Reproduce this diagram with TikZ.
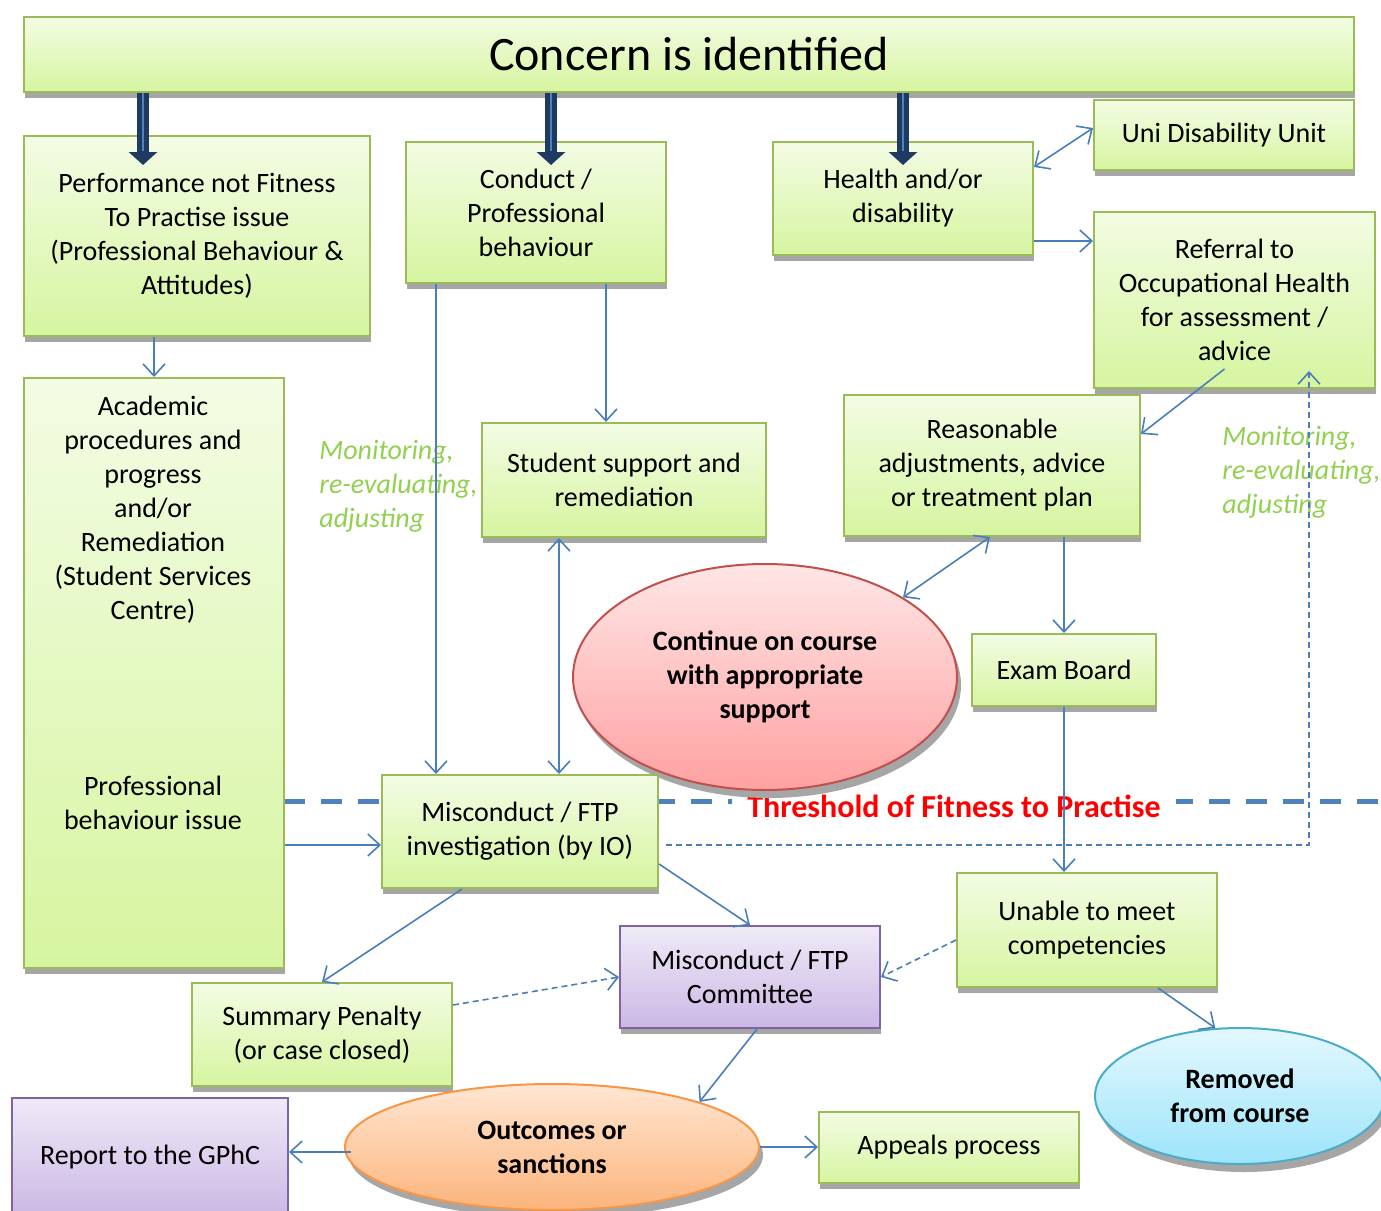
\documentclass[tikz,border=0pt]{standalone}
\usepackage{fontspec}
\setmainfont{Carlito}
\usetikzlibrary{positioning,calc,arrows.meta,shapes.geometric,shadows}

\definecolor{greenedge}{HTML}{9BBB59}
\definecolor{greentop}{HTML}{F3FCE4}
\definecolor{greenbot}{HTML}{D6F5A0}
\definecolor{purpleedge}{HTML}{8064A2}
\definecolor{purpletop}{HTML}{EFEAF7}
\definecolor{purplebot}{HTML}{CBB8E5}
\definecolor{rededge}{HTML}{C0504D}
\definecolor{redtop}{HTML}{FFE6E6}
\definecolor{redbot}{HTML}{FFA1A1}
\definecolor{orangeedge}{HTML}{F79646}
\definecolor{orangetop}{HTML}{FFE6D2}
\definecolor{orangebot}{HTML}{FCB47C}
\definecolor{blueedge}{HTML}{4BACC6}
\definecolor{bluetop}{HTML}{E4F8FE}
\definecolor{bluebot}{HTML}{9DE4FA}
\definecolor{linkblue}{HTML}{4A7EBB}
\definecolor{navy}{HTML}{1F3A60}
\definecolor{stripe}{HTML}{4F81BD}
\definecolor{monitorgreen}{HTML}{92D050}

\begin{document}
\begin{tikzpicture}[
    x=0.5pt, y=-0.5pt,
    every node/.style={font=\fontsize{14}{17}\selectfont},
    box/.style={rectangle, draw=greenedge, line width=1pt, top color=greentop, bottom color=greenbot, align=center, inner sep=0pt,
        drop shadow={opacity=1, fill=black!35, shadow xshift=0.5pt, shadow yshift=-3pt}},
    panel/.style={box, draw=purpleedge, top color=purpletop, bottom color=purplebot},
    blob/.style={ellipse, line width=1pt, align=center, inner sep=0pt, font=\fontsize{14}{17}\selectfont\bfseries,
        drop shadow={opacity=1, fill=black!35, shadow xshift=2pt, shadow yshift=-4pt}},
    arr/.style={draw=linkblue, line width=0.8pt, -{Straight Barb[length=6pt, width=11pt]}},
    biarr/.style={arr, {Straight Barb[length=6pt, width=11pt]}-{Straight Barb[length=6pt, width=11pt]}},
    darr/.style={arr, dash pattern=on 3pt off 2pt},
    bigarr/.style={draw=navy, line width=6pt, -{Triangle[length=6.5pt, width=14pt]}},
    note/.style={text=monitorgreen, font=\fontsize{14}{17}\selectfont\itshape, align=left, inner sep=0pt, anchor=west},
    ]
    \useasboundingbox (0,0) rectangle (1381,1210);

    %%% threshold line %%%
    \coordinate (thr_end) at (1381,801);
    \draw[stripe, line width=2.5pt, dash pattern=on 10.5pt off 8pt] (thr_end -| 284,0) -- (thr_end);
    \node[fill=white, text=red, font=\fontsize{16}{19}\selectfont\bfseries, inner xsep=7.5pt, inner ysep=0pt] (threshold) at (954,806) {Threshold of Fitness to Practise};

    %%% boxes %%%
    \node[box, minimum width=665pt, minimum height=37.5pt, font=\fontsize{24}{28}\selectfont] (concern) at (689,54.5) {Concern is identified};

    % first row
    \node[box, minimum width=173pt, minimum height=100pt] (perf) at (197,236) {Performance not Fitness\\To Practise issue\\(Professional Behaviour \&\\Attitudes)};
    \node[box, minimum width=130pt, minimum height=70.5pt] (conduct) at (536,212.5) {Conduct /\\Professional\\behaviour};
    \node[box, minimum width=130pt, minimum height=56.5pt] (health) at (903,198.5) {Health and/or\\disability};
    \node[box, minimum width=130pt, minimum height=35pt] (uni) at (1224,135) {Uni Disability Unit};
    \node[box, minimum width=140.5pt, minimum height=88pt] (referral) at (1234.5,300) {Referral to\\Occupational Health\\for assessment /\\advice};

    % left column
    \node[box, minimum width=130pt, minimum height=295pt] (academic) at (154,673) {};
    \node[align=center] (acad_text) at (153,509.5) {Academic\\procedures and\\progress\\and/or\\Remediation\\(Student Services\\Centre)};
    \node[align=center] (pb_text) at (153,802.5) {Professional\\behaviour issue};

    % middle
    \node[box, minimum width=142pt, minimum height=57pt] (support) at (624,480) {Student support and\\remediation};
    \node[box, minimum width=148pt, minimum height=70.5pt] (reason) at (992,465.5) {Reasonable\\adjustments, advice\\or treatment plan};
    \node[blob, draw=rededge, top color=redtop, bottom color=redbot, minimum width=192pt, minimum height=113pt] (continue) at (765,677) {Continue on course\\with appropriate\\support};
    \node[box, minimum width=92pt, minimum height=36pt] (exam) at (1064,670) {Exam Board};

    % monitoring notes
    \node[note] (monitor_l) at (319,486) {Monitoring,\\re-evaluating,\\adjusting};
    \node[note] (monitor_r) at (1222,472) {Monitoring,\\re-evaluating,\\adjusting};

    % below the threshold
    \node[box, minimum width=138pt, minimum height=56.5pt] (invest) at (520,831.5) {Misconduct / FTP\\investigation (by IO)};
    \node[box, minimum width=130pt, minimum height=57pt] (unable) at (1087,930) {Unable to meet\\competencies};
    \node[panel, minimum width=130pt, minimum height=51pt] (committee) at (750,977) {Misconduct / FTP\\Committee};
    \node[box, minimum width=130pt, minimum height=51.5pt] (summary) at (322,1034.5) {Summary Penalty\\(or case closed)};
    \node[blob, draw=blueedge, top color=bluetop, bottom color=bluebot, minimum width=145pt, minimum height=68pt] (removed) at (1240,1096) {Removed\\from course};
    \node[panel, minimum width=138pt, minimum height=59pt] (report) at (150,1157) {Report to the GPhC};
    \node[blob, draw=orangeedge, top color=orangetop, bottom color=orangebot, minimum width=207pt, minimum height=63pt] (outcomes) at (552,1147) {Outcomes or\\sanctions};
    \node[box, minimum width=130pt, minimum height=35.5pt] (appeals) at (949,1147.5) {Appeals process};

    %%% arrows %%%
    % from the concern box
    \coordinate (tip1) at (143,165);
    \coordinate (tip2) at (551,165);
    \coordinate (tip3) at (903,165);
    \draw[bigarr] (concern.south -| tip1) to (tip1);
    \draw[bigarr] (concern.south -| tip2) to (tip2);
    \draw[bigarr] (concern.south -| tip3) to (tip3);
    \draw[stripe, line width=1.2pt] (concern.south -| tip1) to ++(0,58);
    \draw[stripe, line width=1.2pt] (concern.south -| tip2) to ++(0,58);
    \draw[stripe, line width=1.2pt] (concern.south -| tip3) to ++(0,58);

    % performance path
    \draw[arr]      (perf.south -| academic.north) to (academic.north);
    \draw[arr]      ([yshift=-6.75pt]invest.west -| academic.east) to ([yshift=-6.75pt]invest.west);
    % conduct path
    \draw[arr]      ([xshift=15.5pt]conduct.south west) to ([xshift=15.5pt]conduct.south west |- invest.north);
    \draw[arr]      ([xshift=-30.5pt]conduct.south east) to ([xshift=-30.5pt]conduct.south east |- support.north);
    \draw[biarr]    ([xshift=39pt]support.south west) to ([xshift=39pt]support.south west |- invest.north);
    % health path
    \draw[biarr]    ([yshift=-13pt]health.north east) to ([yshift=3.5pt]uni.west);
    \draw[arr]      ([yshift=7.5pt]health.south east) to ([yshift=7.5pt]health.south east -| referral.west);
    \draw[arr]      ([xshift=-5pt, yshift=10pt]referral.south) to ([yshift=-20pt]reason.north east);
    \draw[biarr]    ([xshift=-1pt]reason.south) to (continue.30);
    \draw[arr]      (exam.north |- reason.south) to (exam.north);
    \draw[arr]      (exam.south) to (exam.south |- unable.north);
    % investigation and outcomes
    \draw[darr]     ([xshift=3.5pt, yshift=-6.75pt]invest.east) -| ([xshift=-33.5pt, yshift=9pt]referral.south east);
    \draw[arr]      ([yshift=12.5pt]invest.south east) to (committee.north);
    \draw[arr]      ([xshift=-29pt]invest.south) to (summary.north);
    \draw[darr]     ([yshift=-11.5pt]summary.north east) to (committee.west);
    \draw[darr]     ([yshift=-5pt]unable.west) to (committee.east);
    \draw[arr]      ([xshift=-30pt]unable.south east) to (removed.110);
    \draw[arr]      ([xshift=3.5pt]committee.south) to (outcomes.17);
    \draw[arr]      ([xshift=3.5pt, yshift=-2.5pt]outcomes.west) to ([yshift=-2.5pt]outcomes.west -| report.east);
    \draw[arr]      (outcomes.east) to (outcomes.east -| appeals.west);

\end{tikzpicture}
\end{document}
